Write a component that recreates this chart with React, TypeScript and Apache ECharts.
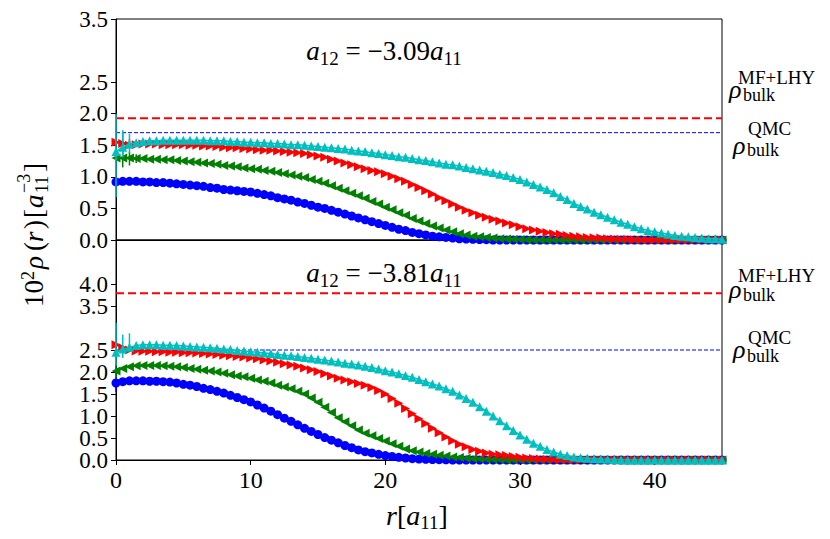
import React, { useEffect, useRef } from "react";
import * as echarts from "echarts";

const R = [
  0, 0.5, 1, 1.5, 2, 2.5, 3, 3.5, 4, 4.5,
  5, 5.5, 6, 6.5, 7, 7.5, 8, 8.5, 9, 9.5,
  10, 10.5, 11, 11.5, 12, 12.5, 13, 13.5, 14, 14.5,
  15, 15.5, 16, 16.5, 17, 17.5, 18, 18.5, 19, 19.5,
  20, 20.5, 21, 21.5, 22, 22.5, 23, 23.5, 24, 24.5,
  25, 25.5, 26, 26.5, 27, 27.5, 28, 28.5, 29, 29.5,
  30, 30.5, 31, 31.5, 32, 32.5, 33, 33.5, 34, 34.5,
  35, 35.5, 36, 36.5, 37, 37.5, 38, 38.5, 39, 39.5,
  40, 40.5, 41, 41.5, 42, 42.5, 43, 43.5, 44, 44.5,
  45,
];

const TOP_BLUE = [
  0.92, 0.93, 0.93, 0.93, 0.92, 0.92, 0.91, 0.91, 0.9, 0.89,
  0.88, 0.87, 0.86, 0.85, 0.83, 0.82, 0.8, 0.79, 0.78, 0.77,
  0.76, 0.74, 0.72, 0.7, 0.67, 0.65, 0.63, 0.6, 0.58, 0.55,
  0.52, 0.5, 0.47, 0.44, 0.41, 0.38, 0.35, 0.32, 0.29, 0.26,
  0.23, 0.2, 0.17, 0.15, 0.12, 0.1, 0.08, 0.06, 0.05, 0.04,
  0.03, 0.02, 0.015, 0.01, 0.008, 0.005, 0, 0, 0, 0,
  0, 0, 0, 0, 0, 0, 0, 0, 0, 0,
  0, 0, 0, 0, 0, 0, 0, 0, 0, 0,
  0, 0, 0, 0, 0, 0, 0, 0, 0, 0,
  0,
];
const TOP_GREEN = [
  1.3, 1.3, 1.3, 1.29, 1.29, 1.28, 1.28, 1.27, 1.27, 1.26,
  1.25, 1.24, 1.23, 1.22, 1.21, 1.2, 1.18, 1.17, 1.16, 1.14,
  1.13, 1.12, 1.1, 1.09, 1.07, 1.05, 1.03, 1.01, 0.99, 0.96,
  0.93, 0.9, 0.86, 0.82, 0.78, 0.74, 0.7, 0.66, 0.61, 0.57,
  0.52, 0.48, 0.43, 0.39, 0.34, 0.3, 0.26, 0.22, 0.19, 0.16,
  0.13, 0.1, 0.08, 0.06, 0.05, 0.04, 0.03, 0.02, 0.015, 0.01,
  0.007, 0.005, 0, 0, 0, 0, 0, 0, 0, 0,
  0, 0, 0, 0, 0, 0, 0, 0, 0, 0,
  0, 0, 0, 0, 0, 0, 0, 0, 0, 0,
  0,
];
const TOP_RED = [
  1.55, 1.53, 1.5, 1.51, 1.52, 1.52, 1.52, 1.51, 1.51, 1.51,
  1.51, 1.5, 1.5, 1.49, 1.49, 1.48, 1.47, 1.46, 1.46, 1.45,
  1.44, 1.43, 1.42, 1.42, 1.41, 1.4, 1.39, 1.38, 1.37, 1.35,
  1.33, 1.31, 1.28, 1.25, 1.22, 1.19, 1.16, 1.13, 1.1, 1.08,
  1.05, 1.01, 0.97, 0.93, 0.88, 0.83, 0.78, 0.73, 0.67, 0.62,
  0.57, 0.52, 0.47, 0.43, 0.39, 0.36, 0.33, 0.3, 0.27, 0.24,
  0.21, 0.18, 0.16, 0.14, 0.12, 0.1, 0.09, 0.07, 0.06, 0.05,
  0.04, 0.035, 0.03, 0.02, 0.015, 0.01, 0.01, 0.005, 0, 0,
  0, 0, 0, 0, 0, 0, 0, 0, 0, 0,
  0,
];
const TOP_CYAN = [
  1.4, 1.47, 1.52, 1.54, 1.56, 1.57, 1.57, 1.58, 1.58, 1.58,
  1.58, 1.58, 1.58, 1.58, 1.57, 1.57, 1.57, 1.56, 1.56, 1.55,
  1.55, 1.54, 1.54, 1.53, 1.53, 1.52, 1.51, 1.51, 1.5, 1.49,
  1.48, 1.47, 1.46, 1.45, 1.44, 1.42, 1.41, 1.4, 1.38, 1.37,
  1.35, 1.34, 1.32, 1.31, 1.29, 1.27, 1.26, 1.24, 1.22, 1.2,
  1.19, 1.17, 1.15, 1.13, 1.11, 1.09, 1.07, 1.04, 1.02, 0.99,
  0.96, 0.92, 0.88, 0.84, 0.8, 0.75, 0.69, 0.64, 0.58, 0.53,
  0.49, 0.44, 0.4, 0.36, 0.32, 0.28, 0.25, 0.21, 0.18, 0.15,
  0.13, 0.11, 0.09, 0.07, 0.06, 0.05, 0.04, 0.03, 0.02, 0.02,
  0.01,
];

const BOT_BLUE = [
  1.75, 1.78, 1.8, 1.8, 1.8, 1.79, 1.79, 1.78, 1.77, 1.75,
  1.72, 1.7, 1.67, 1.63, 1.6, 1.56, 1.52, 1.47, 1.42, 1.37,
  1.32, 1.25, 1.18, 1.11, 1.03, 0.95, 0.88, 0.8, 0.72, 0.65,
  0.58, 0.51, 0.45, 0.39, 0.33, 0.28, 0.23, 0.19, 0.16, 0.13,
  0.1, 0.08, 0.06, 0.045, 0.03, 0.02, 0.015, 0.01, 0.008, 0.005,
  0, 0, 0, 0, 0, 0, 0, 0, 0, 0,
  0, 0, 0, 0, 0, 0, 0, 0, 0, 0,
  0, 0, 0, 0, 0, 0, 0, 0, 0, 0,
  0, 0, 0, 0, 0, 0, 0, 0, 0, 0,
  0,
];
const BOT_GREEN = [
  2.02, 2.08, 2.12, 2.14, 2.15, 2.15, 2.15, 2.14, 2.13, 2.12,
  2.1, 2.08, 2.06, 2.04, 2.02, 2.0, 1.97, 1.94, 1.91, 1.89,
  1.86, 1.82, 1.79, 1.75, 1.7, 1.66, 1.62, 1.56, 1.5, 1.41,
  1.31, 1.2, 1.08, 0.96, 0.87, 0.78, 0.68, 0.61, 0.55, 0.49,
  0.43, 0.37, 0.31, 0.25, 0.21, 0.18, 0.15, 0.13, 0.11, 0.09,
  0.07, 0.055, 0.04, 0.03, 0.02, 0.015, 0.01, 0.005, 0, 0,
  0, 0, 0, 0, 0, 0, 0, 0, 0, 0,
  0, 0, 0, 0, 0, 0, 0, 0, 0, 0,
  0, 0, 0, 0, 0, 0, 0, 0, 0, 0,
  0,
];
const BOT_RED = [
  2.62, 2.55, 2.5, 2.48, 2.47, 2.47, 2.46, 2.46, 2.45, 2.45,
  2.44, 2.44, 2.43, 2.42, 2.41, 2.4, 2.38, 2.37, 2.35, 2.34,
  2.32, 2.3, 2.27, 2.25, 2.22, 2.19, 2.16, 2.13, 2.09, 2.05,
  2.01, 1.96, 1.91, 1.86, 1.82, 1.78, 1.74, 1.7, 1.65, 1.58,
  1.5, 1.4, 1.29, 1.17, 1.05, 0.94, 0.83, 0.72, 0.62, 0.52,
  0.44, 0.36, 0.3, 0.24, 0.2, 0.16, 0.13, 0.12, 0.1, 0.08,
  0.06, 0.045, 0.035, 0.025, 0.015, 0.01, 0.005, 0, 0, 0,
  0, 0, 0, 0, 0, 0, 0, 0, 0, 0,
  0, 0, 0, 0, 0, 0, 0, 0, 0, 0,
  0,
];
const BOT_CYAN = [
  2.45, 2.52, 2.56, 2.6, 2.62, 2.62, 2.62, 2.61, 2.61, 2.6,
  2.59, 2.58, 2.57, 2.56, 2.55, 2.54, 2.52, 2.51, 2.49, 2.48,
  2.46, 2.45, 2.43, 2.42, 2.4, 2.38, 2.37, 2.35, 2.33, 2.31,
  2.29, 2.27, 2.25, 2.23, 2.2, 2.18, 2.16, 2.13, 2.1, 2.07,
  2.03, 2.0, 1.96, 1.92, 1.88, 1.83, 1.78, 1.73, 1.68, 1.62,
  1.56, 1.48, 1.4, 1.31, 1.21, 1.11, 1.0, 0.89, 0.78, 0.67,
  0.57, 0.47, 0.38, 0.31, 0.24, 0.18, 0.13, 0.1, 0.07, 0.05,
  0.04, 0.03, 0.02, 0.015, 0.01, 0.005, 0, 0, 0, 0,
  0, 0, 0, 0, 0, 0, 0, 0, 0, 0,
  0,
];

// error bars: [r, low, high]
const TOP_ERR_CYAN = [[0, 0.68, 2.0], [0.5, 1.31, 1.74], [1, 1.38, 1.68]];
const TOP_ERR_RED = [[0.5, 1.45, 1.7], [1, 1.44, 1.6]];
const TOP_ERR_GREEN = [[0.5, 1.15, 1.45], [1, 1.18, 1.4], [1.5, 1.22, 1.36]];
const BOT_ERR_CYAN = [[0, 2.15, 3.12], [0.5, 2.32, 2.85], [1, 2.5, 2.88]];
const BOT_ERR_GREEN = [[0, 1.85, 2.2]];
const BOT_ERR_BLUE = [[0, 1.55, 1.9]];

const TOP_BULK_MFLHY = 1.93;
const TOP_BULK_QMC = 1.7;
const BOT_BULK_MFLHY = 3.79;
const BOT_BULK_QMC = 2.5;

const TOP_TICKS = [0, 0.5, 1.0, 1.5, 2.0, 2.5, 3.5];
const BOT_TICKS = [0, 0.5, 1.0, 1.5, 2.0, 2.5, 3.5, 4.0];
// bottom labels split over two overlapping axes so that none is auto-hidden
const BOT_LABELS_A = [0, 1.0, 2.0, 4.0];
const BOT_LABELS_B = [0.5, 1.5, 2.5, 3.5];
const X_TICKS = [0, 10, 20, 30, 40];
const X_MIN = 0;
const X_MAX = 45;
const X_STEP = 10;
const TOP_Y_MAX = 3.5;
const BOT_Y_MAX = 5.0;

const TOP_LABEL = "−3.09";
const BOT_LABEL = "−3.81";

const BLUE = "#0000ff";
const GREEN = "#008000";
const RED = "#ff0000";
const CYAN = "#00bfbf";

const FONT = "'Liberation Serif', 'DejaVu Serif', serif";

function pairs(ys: number[]) {
  return R.map((r, i) => [r, ys[i]]);
}

function markers(g: number, ys: number[], color: string, symbol: string, rotate: number, size: any, z: number) {
  return {
    type: "line",
    xAxisIndex: g,
    yAxisIndex: g,
    data: pairs(ys),
    symbol,
    symbolRotate: rotate,
    symbolSize: size,
    showSymbol: true,
    showAllSymbol: true,
    lineStyle: { color, width: 1.5 },
    itemStyle: { color },
    z,
    silent: true,
  };
}

function errbars(g: number, data: number[][], color: string, z: number) {
  return {
    type: "custom",
    xAxisIndex: g,
    yAxisIndex: g,
    data,
    encode: { x: 0, y: [1, 2] },
    z,
    silent: true,
    renderItem: (params: any, api: any) => {
      const p1 = api.coord([api.value(0), api.value(1)]);
      const p2 = api.coord([api.value(0), api.value(2)]);
      return {
        type: "line",
        shape: { x1: p1[0], y1: p1[1], x2: p2[0], y2: p2[1] },
        style: { stroke: color, lineWidth: 1.5 },
      };
    },
  };
}

function hline(g: number, v: number, color: string, width: number, dash: number[]) {
  return {
    type: "line",
    xAxisIndex: g,
    yAxisIndex: g,
    data: [[X_MIN, v], [X_MAX, v]],
    symbol: "none",
    lineStyle: { color, width, type: dash },
    z: 1,
    silent: true,
  };
}

function txt(x: number, y: number, text: string, size: number, italic = false, align = "left") {
  return {
    type: "text",
    x,
    y,
    silent: true,
    style: {
      text,
      fontSize: size,
      fontFamily: FONT,
      fontStyle: italic ? "italic" : "normal",
      fill: "#000",
      align,
      verticalAlign: "middle",
    },
  };
}

function bulkLabel(x: number, yRho: number, ySup: number, ySub: number, sup: string, supX: number, subX: number) {
  return [
    txt(x, yRho, "ρ", 26, true),
    txt(supX, ySup, sup, 19),
    txt(subX, ySub, "bulk", 18),
  ];
}

function annot(cx: number, cy: number, val: string) {
  return {
    type: "text",
    x: cx,
    y: cy,
    silent: true,
    style: {
      text: `{i|a}{s|12}{n| = ${val}}{i|a}{s|11}`,
      align: "center",
      verticalAlign: "middle",
      fill: "#000",
      rich: {
        i: { fontSize: 27, fontFamily: FONT, fontStyle: "italic", lineHeight: 34, verticalAlign: "middle" },
        n: { fontSize: 27, fontFamily: FONT, lineHeight: 34, verticalAlign: "middle" },
        s: { fontSize: 19, fontFamily: FONT, lineHeight: 34, verticalAlign: "bottom" },
      },
    },
  };
}

const yLabel = {
  color: "#000",
  fontSize: 23,
  lineHeight: 18,
  fontFamily: FONT,
  margin: 8,
  showMinLabel: true,
  showMaxLabel: true,
  hideOverlap: false,
  formatter: (v: number) => v.toFixed(1),
};
const yTick = { show: true, length: 5, lineStyle: { color: "#000" } };

const option: any = {
  animation: false,
  backgroundColor: "#fff",
  textStyle: { fontFamily: FONT },
  grid: [
    { left: 116, top: 19, width: 606, height: 221, show: true, borderColor: "#000", borderWidth: 1, backgroundColor: "transparent" },
    { left: 116, top: 240, width: 606, height: 220, show: true, borderColor: "#000", borderWidth: 1, backgroundColor: "transparent" },
  ],
  xAxis: [
    {
      type: "value", gridIndex: 0, min: X_MIN, max: X_MAX, interval: X_STEP,
      axisLabel: { show: false }, axisTick: { show: false }, splitLine: { show: false },
      axisLine: { show: true, lineStyle: { color: "#000" } },
    },
    {
      type: "value", gridIndex: 1, min: X_MIN, max: X_MAX, interval: X_STEP,
      splitLine: { show: false },
      axisLine: { show: true, lineStyle: { color: "#000" } },
      axisTick: { show: true, length: 5, lineStyle: { color: "#000" }, customValues: X_TICKS },
      axisLabel: { color: "#000", fontSize: 24, fontFamily: FONT, margin: 8, customValues: X_TICKS, hideOverlap: false },
    },
  ],
  yAxis: [
    {
      type: "value", gridIndex: 0, min: 0, max: TOP_Y_MAX, splitLine: { show: false },
      axisLine: { show: true, lineStyle: { color: "#000" } },
      axisTick: { ...yTick, customValues: TOP_TICKS },
      axisLabel: { ...yLabel, customValues: TOP_TICKS },
    },
    {
      type: "value", gridIndex: 1, min: 0, max: BOT_Y_MAX, splitLine: { show: false },
      axisLine: { show: true, lineStyle: { color: "#000" } },
      axisTick: { ...yTick, customValues: BOT_TICKS },
      axisLabel: { ...yLabel, customValues: BOT_LABELS_A },
    },
    {
      type: "value", gridIndex: 1, min: 0, max: BOT_Y_MAX, position: "left", offset: 0,
      splitLine: { show: false },
      axisLine: { show: false },
      axisTick: { show: false },
      axisLabel: { ...yLabel, customValues: BOT_LABELS_B },
    },
  ],
  series: [
    hline(0, TOP_BULK_MFLHY, RED, 2, [8, 4]),
    hline(0, TOP_BULK_QMC, BLUE, 1, [4, 2]),
    hline(1, BOT_BULK_MFLHY, RED, 2, [8, 4]),
    hline(1, BOT_BULK_QMC, BLUE, 1, [4, 2]),
    markers(0, TOP_BLUE, BLUE, "circle", 0, 9, 2),
    markers(0, TOP_GREEN, GREEN, "triangle", 90, [9, 9], 3),
    markers(0, TOP_RED, RED, "triangle", -90, [9, 9], 4),
    markers(0, TOP_CYAN, CYAN, "triangle", 0, [9, 9], 5),
    errbars(0, TOP_ERR_GREEN, GREEN, 3),
    errbars(0, TOP_ERR_RED, RED, 4),
    errbars(0, TOP_ERR_CYAN, CYAN, 5),
    markers(1, BOT_BLUE, BLUE, "circle", 0, 9, 2),
    markers(1, BOT_GREEN, GREEN, "triangle", 90, [9, 9], 3),
    markers(1, BOT_RED, RED, "triangle", -90, [9, 9], 4),
    markers(1, BOT_CYAN, CYAN, "triangle", 0, [9, 9], 5),
    errbars(1, BOT_ERR_BLUE, BLUE, 2),
    errbars(1, BOT_ERR_GREEN, GREEN, 3),
    errbars(1, BOT_ERR_CYAN, CYAN, 5),
  ],
  graphic: [
    annot(384, 51, TOP_LABEL),
    annot(384, 273, BOT_LABEL),
    ...bulkLabel(729, 89, 77, 95, "MF+LHY", 738, 743),
    ...bulkLabel(733, 145, 128, 150, "QMC", 748, 747),
    ...bulkLabel(729, 289, 275, 295, "MF+LHY", 738, 743),
    ...bulkLabel(733, 349, 337, 356, "QMC", 748, 747),
    {
      type: "text",
      x: 417,
      y: 515,
      silent: true,
      style: {
        text: "{i|r}{n|[}{i|a}{s|11}{n|]}",
        align: "center",
        verticalAlign: "middle",
        fill: "#000",
        rich: {
          i: { fontSize: 28, fontFamily: FONT, fontStyle: "italic", lineHeight: 34, verticalAlign: "middle" },
          n: { fontSize: 28, fontFamily: FONT, lineHeight: 34, verticalAlign: "middle" },
          s: { fontSize: 19, fontFamily: FONT, lineHeight: 34, verticalAlign: "bottom" },
        },
      },
    },
    {
      type: "group",
      x: 34,
      y: 307,
      rotation: Math.PI / 2,
      silent: true,
      children: [
        txt(0, 0, "10", 27),
        txt(27, -6, "2", 18),
        txt(38, 0, "ρ", 27, true),
        txt(56, 0, "(", 27),
        txt(65, 0, "r", 27, true),
        txt(78, 0, ")", 27),
        txt(89, 0, "[", 27),
        txt(99, 0, "a", 27, true),
        txt(114, -10, "−3", 18),
        txt(114, 8, "11", 18),
        txt(135, 0, "]", 27),
      ],
    },
  ],
};

export default function App() {
  const ref = useRef<HTMLDivElement>(null);
  useEffect(() => {
    if (!ref.current) return;
    const chart = echarts.init(ref.current, null, { renderer: "svg" });
    chart.setOption(option);
    return () => chart.dispose();
  }, []);
  return (
    <div
      ref={ref}
      style={{ position: "fixed", left: 0, top: 0, width: 830, height: 539, background: "#fff" }}
    />
  );
}
